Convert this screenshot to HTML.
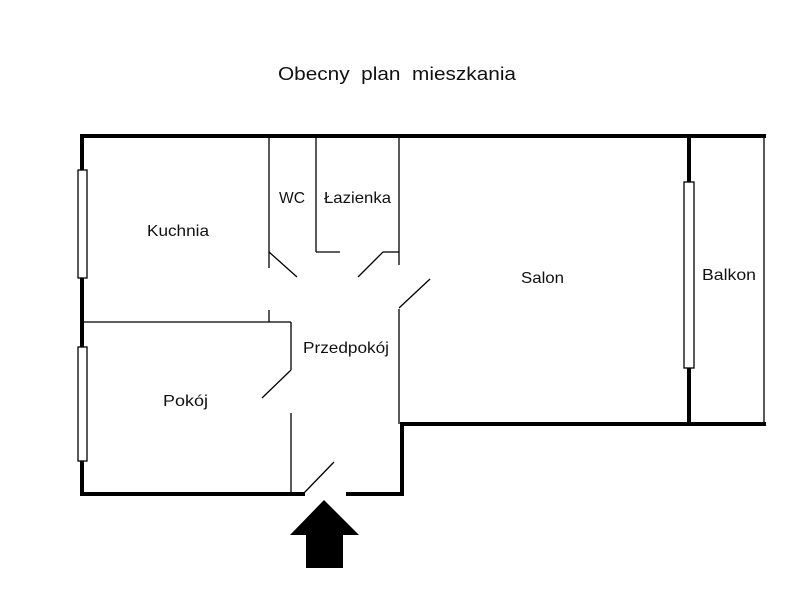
<!DOCTYPE html>
<html><head><style>
body{margin:0;background:#fff}
svg text{font-family:"Liberation Sans",sans-serif;fill:#111}
</style></head><body>
<svg width="800" height="600" xmlns="http://www.w3.org/2000/svg">
<rect width="800" height="600" fill="#fff"/>
<text x="278" y="80" font-size="18" textLength="238" lengthAdjust="spacingAndGlyphs" xml:space="preserve">Obecny  plan  mieszkania</text>
<g stroke="#000" stroke-width="4" fill="none" stroke-linecap="square">
<line x1="82" y1="136" x2="764" y2="136"/>
<line x1="82" y1="136" x2="82" y2="494"/>
<line x1="82" y1="494" x2="303" y2="494"/>
<line x1="348" y1="494" x2="402" y2="494"/>
<line x1="402" y1="494" x2="402" y2="424"/>
<line x1="402" y1="424" x2="764" y2="424"/>
<line x1="689" y1="136" x2="689" y2="424"/>
</g>
<g stroke="#000" stroke-width="1.3" fill="none">
<line x1="764" y1="136" x2="764" y2="424"/>
<line x1="269" y1="136" x2="269" y2="268"/>
<line x1="269" y1="310" x2="269" y2="322"/>
<line x1="316" y1="136" x2="316" y2="252"/>
<line x1="316" y1="252" x2="340" y2="252"/>
<line x1="399" y1="136" x2="399" y2="265"/>
<line x1="383" y1="252" x2="399" y2="252"/>
<line x1="399" y1="309" x2="399" y2="424"/>
<line x1="269" y1="252" x2="297" y2="277"/>
<line x1="383" y1="252" x2="358" y2="277"/>
<line x1="399" y1="308" x2="430" y2="279"/>
<line x1="84" y1="322" x2="291" y2="322"/>
<line x1="291" y1="322" x2="291" y2="370"/>
<line x1="291" y1="370" x2="262" y2="398"/>
<line x1="291" y1="413" x2="291" y2="494"/>
<line x1="304" y1="493" x2="334" y2="462"/>
</g>
<g stroke="#000" stroke-width="1.3" fill="#fff">
<rect x="78" y="170" width="9" height="108"/>
<rect x="78" y="347" width="9" height="114"/>
<rect x="684" y="182" width="10" height="186"/>
</g>
<polygon points="324,500 359,535 343,535 343,568 306,568 306,535 290,535" fill="#000"/>
<g font-size="16" lengthAdjust="spacingAndGlyphs">
<text x="147" y="236" textLength="62" lengthAdjust="spacingAndGlyphs">Kuchnia</text>
<text x="279" y="203" textLength="26" lengthAdjust="spacingAndGlyphs">WC</text>
<text x="324" y="203" textLength="67" lengthAdjust="spacingAndGlyphs">Łazienka</text>
<text x="521" y="283" textLength="43" lengthAdjust="spacingAndGlyphs">Salon</text>
<text x="702" y="280" textLength="54" lengthAdjust="spacingAndGlyphs">Balkon</text>
<text x="303" y="353" textLength="86" lengthAdjust="spacingAndGlyphs">Przedpokój</text>
<text x="163" y="406" textLength="45" lengthAdjust="spacingAndGlyphs">Pokój</text>
</g>
</svg>
</body></html>
